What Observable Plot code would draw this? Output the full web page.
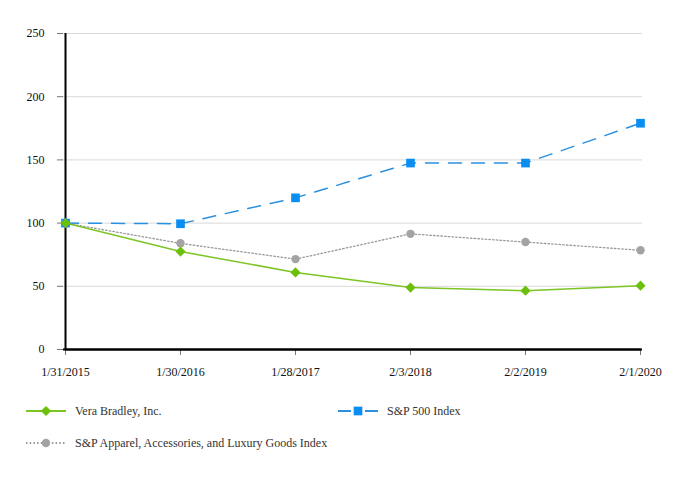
<!DOCTYPE html>
<html>
<head>
<meta charset="utf-8">
<script src="https://cdn.jsdelivr.net/npm/d3@7"></script>
<script src="https://cdn.jsdelivr.net/npm/@observablehq/plot@0.6"></script>
<style>
  html, body { margin: 0; padding: 0; background: #fff; }
  #wrap { position: relative; width: 676px; height: 480px; font-family: "Liberation Serif", "Times New Roman", serif; }
  #chart { position: absolute; left: 0; top: 0; }
  #chart svg, #chart svg text { font-family: "Liberation Serif", "Times New Roman", serif !important; }
  .leg { position: absolute; display: flex; align-items: center; font-size: 12px; color: #333; height: 16px; }
  .leg svg { margin-right: 9px; }
</style>
</head>
<body>
<div id="wrap"><div id="chart"></div></div>
<script>
const dates = ["1/31/2015", "1/30/2016", "1/28/2017", "2/3/2018", "2/2/2019", "2/1/2020"];
const veraBradley = [100, 77.5, 61, 49, 46.5, 50.5];
const sp500 = [100, 99.5, 120, 147.5, 147.5, 179];
const spApparel = [100, 84, 71.5, 91.5, 85, 78.5];
const yTicks = [0, 50, 100, 150, 200, 250];

const seriesNames = ["Vera Bradley, Inc.", "S&P 500 Index", "S&P Apparel, Accessories, and Luxury Goods Index"];
const styles = {
  "Vera Bradley, Inc.": {stroke: "#7cc524", fill: "#6cc00c", symbol: "diamond2", r: 4.6, dash: null, width: 1.5},
  "S&P 500 Index": {stroke: "#2a90e0", fill: "#0b8ef2", symbol: "square", r: 4.9, dash: "13,10", width: 1.5},
  "S&P Apparel, Accessories, and Luxury Goods Index": {stroke: "#999999", fill: "#a3a3a3", symbol: "circle", r: 4.2, dash: "1.5,2.2", width: 1.3}
};
const seriesValues = [veraBradley, sp500, spApparel];
const rows = (name, vals) => dates.map((d, i) => ({date: d, value: vals[i], series: name}));

const font = '"Liberation Serif", "Times New Roman", serif';

const order = [2, 1, 0];
const marks = [
  Plot.gridY(yTicks.filter(t => t > 0), {y: d => d, stroke: "#d9d9d9", strokeOpacity: 1, strokeWidth: 1})
];
for (const k of order) {
  const name = seriesNames[k];
  const s = styles[name];
  marks.push(Plot.line(rows(name, seriesValues[k]), {x: "date", y: "value", stroke: s.stroke, strokeWidth: s.width, strokeDasharray: s.dash}));
}
const baseline = [{date: dates[0], value: yTicks[0]}, {date: dates[dates.length - 1], value: yTicks[0]}];
marks.push(
  Plot.axisY({ticks: yTicks, tickSize: 6, tickPadding: 13, stroke: "#777", fill: "#111", fontSize: 12, fontFamily: font}),
  Plot.axisX({tickSize: 6, tickPadding: 12, stroke: "#777", fill: "#111", fontSize: 12, fontFamily: font}),
  Plot.gridX([dates[0]], {x: d => d, stroke: "#000", strokeOpacity: 1, strokeWidth: 2}),
  Plot.gridY([yTicks[0]], {y: d => d, stroke: "#000", strokeOpacity: 1, strokeWidth: 2}),
  Plot.line(baseline, {x: "date", y: "value", stroke: "#000", strokeWidth: 2})
);
for (const k of order) {
  const name = seriesNames[k];
  const s = styles[name];
  marks.push(Plot.dot(rows(name, seriesValues[k]), {x: "date", y: "value", symbol: () => s.symbol, fill: s.fill, stroke: "none", r: s.r}));
}

const chart = Plot.plot({
  width: 676,
  height: 390,
  marginLeft: 63,
  marginRight: 34,
  marginTop: 33,
  marginBottom: 41,
  style: {fontFamily: font, fontSize: "12px", background: "#fff", overflow: "visible"},
  x: {type: "point", domain: dates, padding: 0, label: null},
  y: {domain: [0, 250], label: null},
  symbol: {type: "identity"},
  marks
});
document.getElementById("chart").appendChild(chart);

const legendPos = [
  {name: seriesNames[0], left: 26, top: 403},
  {name: seriesNames[1], left: 338, top: 403},
  {name: seriesNames[2], left: 26, top: 435}
];
const wrap = document.getElementById("wrap");
const symMap = {diamond2: d3.symbolDiamond2, square: d3.symbolSquare, circle: d3.symbolCircle};
for (const p of legendPos) {
  const s = styles[p.name];
  const div = document.createElement("div");
  div.className = "leg";
  div.style.left = p.left + "px";
  div.style.top = p.top + "px";
  const svg = d3.create("svg").attr("width", 40).attr("height", 16);
  svg.append("line").attr("x1", 0).attr("x2", 40).attr("y1", 8).attr("y2", 8)
    .attr("stroke", s.stroke).attr("stroke-width", s.width + 0.5)
    .attr("stroke-dasharray", s.dash ? (s.symbol === "square" ? "13,14,13" : s.dash) : null);
  svg.append("path").attr("transform", "translate(20,8)")
    .attr("d", d3.symbol(symMap[s.symbol], Math.PI * s.r * s.r)())
    .attr("fill", s.fill);
  div.appendChild(svg.node());
  const span = document.createElement("span");
  span.textContent = p.name;
  div.appendChild(span);
  wrap.appendChild(div);
}
</script>
</body>
</html>
